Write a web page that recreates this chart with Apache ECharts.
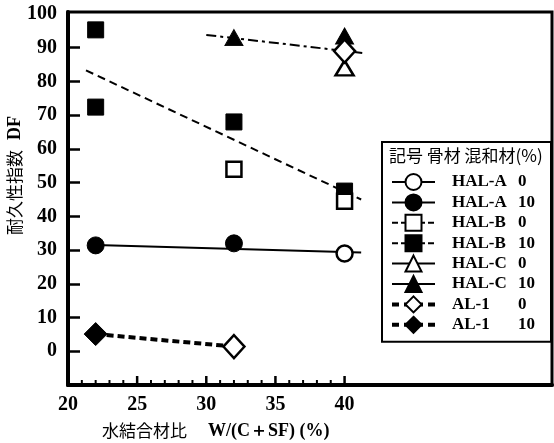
<!DOCTYPE html>
<html><head><meta charset="utf-8">
<script src="https://cdn.jsdelivr.net/npm/echarts@6/dist/echarts.min.js"></script>
<style>html,body{margin:0;padding:0;background:#fff}#c{width:554px;height:443px}</style>
</head><body><div id="c"></div>
<script>
// ---- data ----
const xTickLabels = [20, 25, 30, 35, 40];
const xMajorTicks = [25, 30, 35, 40];
const xMinorTicks = [21,22,23,24,26,27,28,29,31,32,33,34,36,37,38,39];
const yTickLabels = [0, 10, 20, 30, 40, 50, 60, 70, 80, 90, 100];
const yTicks = [0, 10, 20, 30, 40, 50, 60, 70, 80, 90];

const seriesNames = ['HAL-A 0','HAL-A 10','HAL-B 0','HAL-B 10','HAL-C 0','HAL-C 10','AL-1 0','AL-1 10'];
const legendAggregate = ['HAL-A','HAL-A','HAL-B','HAL-B','HAL-C','HAL-C','AL-1','AL-1'];
const legendAdmixture = ['0','10','0','10','0','10','0','10'];

const halA0 = [[40, 29]];
const halA10 = [[22, 31.4], [32, 32]];
const halB0 = [[32, 54], [40, 44.5]];
const halB10 = [[22, 95.3], [22, 72.4], [32, 68], [40, 47.5]];
const halC0 = [[40, 84]];
const halC10 = [[32, 93], [40, 93.5]];
const al1_0 = [[32, 1.4], [40, 89]];
const al1_10 = [[22, 5.1]];

const fitHalA = [[22, 31.5], [41.2, 29.3]];
const fitHalB = [[21.3, 83.3], [41.2, 45]];
const fitHalC = [[30, 93.8], [41.4, 88.4]];
const fitAl1 = [[22, 5.1], [32, 1.4]];

// ---- chart ----
const chart = echarts.init(document.getElementById('c'), null, {renderer: 'canvas'});
const serif = "'Liberation Serif', 'DejaVu Serif', serif";
const cjk = "'Noto Sans CJK JP', 'Noto Sans', sans-serif";
const Y_MIN = -10, Y_MAX = 100.6;

function pts(name, data, symbol, size, filled, z) {
  return {
    name: name, type: 'line', data: data, symbol: symbol, symbolSize: size,
    showSymbol: true, z: z, silent: true,
    lineStyle: {width: 0, opacity: 0, color: '#000'},
    itemStyle: {color: filled ? '#000' : '#fff', borderColor: '#000', borderWidth: filled ? 1 : 2.5, opacity: 1}
  };
}
function fit(data, width, type) {
  return {
    type: 'line', data: data, symbol: 'none', z: 2, silent: true,
    lineStyle: {color: '#000', width: width, type: type}
  };
}
// x-axis tick marks drawn through the axis scale (api.coord)
function ticks(values, len, width) {
  return {
    type: 'custom', silent: true, z: 6, clip: false,
    data: values.map(v => [v]),
    encode: {x: 0},
    renderItem: function (params, api) {
      const p = api.coord([api.value(0), Y_MIN]);
      return {type: 'line', shape: {x1: p[0], y1: p[1], x2: p[0], y2: p[1] - len},
              style: {stroke: '#000', lineWidth: width}};
    }
  };
}

const legendLines = [
  {width: 2, type: 'solid'}, {width: 2, type: 'solid'},
  {width: 2, type: [6, 3]}, {width: 2, type: [6, 3]},
  {width: 2, type: 'solid'}, {width: 2, type: 'solid'},
  {width: 4, type: [7, 5]}, {width: 4, type: [7, 5]}
];

const option = {
  animation: false,
  backgroundColor: '#fff',
  grid: {left: 68, right: 2, top: 12, bottom: 58, show: true, borderColor: '#000', borderWidth: 3},
  xAxis: {
    type: 'value', min: 20, max: 55,
    axisLine: {show: true, onZero: false, lineStyle: {color: '#000', width: 4}},
    axisTick: {show: false},
    axisLabel: {customValues: xTickLabels, color: '#000', fontFamily: serif, fontWeight: 'bold', fontSize: 20, margin: 10},
    splitLine: {show: false}
  },
  yAxis: {
    type: 'value', min: Y_MIN, max: Y_MAX,
    axisLine: {show: true, onZero: false, lineStyle: {color: '#000', width: 4}},
    axisTick: {show: true, inside: true, length: 12, customValues: yTicks, lineStyle: {color: '#000', width: 2.5}},
    axisLabel: {customValues: yTickLabels, color: '#000', fontFamily: serif, fontWeight: 'bold', fontSize: 20, margin: 11},
    splitLine: {show: false}
  },
  legend: {
    orient: 'vertical', left: 382, top: 142,
    padding: [31, 16, 8, 8], itemGap: 2.4, itemWidth: 43, itemHeight: 20,
    borderColor: '#000', borderWidth: 2, backgroundColor: '#fff',
    selectedMode: false,
    data: seriesNames.map((n, i) => ({name: n, lineStyle: Object.assign({color: '#000', opacity: 1}, legendLines[i])})),
    formatter: function (name) {
      const i = seriesNames.indexOf(name);
      return '{a|' + legendAggregate[i] + '}{b|' + legendAdmixture[i] + '}';
    },
    textStyle: {
      color: '#000', fontFamily: serif, fontWeight: 'bold', fontSize: 17,
      rich: {
        a: {width: 66, padding: [0, 0, 0, 12], fontFamily: serif, fontWeight: 'bold', fontSize: 17, color: '#000'},
        b: {width: 22, fontFamily: serif, fontWeight: 'bold', fontSize: 17, color: '#000'}
      }
    }
  },
  graphic: [
    {type: 'text', x: 389, y: 156, z: 100, style: {text: '記号 骨材 混和材(%)', font: '17px ' + cjk, fill: '#000', textVerticalAlign: 'middle', verticalAlign: 'middle'}},
    {type: 'text', x: 102, y: 431, style: {text: '水結合材比', font: '17px ' + cjk, fill: '#000', textVerticalAlign: 'middle', verticalAlign: 'middle'}},
    {type: 'text', x: 208, y: 431, style: {text: 'W/(C＋SF) (%)', font: 'bold 18px ' + serif, fill: '#000', textVerticalAlign: 'middle', verticalAlign: 'middle'}},
    {type: 'group', x: 15, y: 174, rotation: Math.PI / 2, children: [
      {type: 'text', x: -61, y: 0, style: {text: '耐久性指数', font: '17px ' + cjk, fill: '#000', textVerticalAlign: 'middle', verticalAlign: 'middle'}},
      {type: 'text', x: 34, y: 0, style: {text: 'DF', font: 'bold 18px ' + serif, fill: '#000', textVerticalAlign: 'middle', verticalAlign: 'middle'}}
    ]}
  ],
  series: [
    ticks(xMajorTicks, 9, 2.5),
    ticks(xMinorTicks, 5, 2),
    fit(fitHalA, 2, 'solid'),
    fit(fitHalB, 2, [8, 5]),
    fit(fitHalC, 2, [10, 4, 3, 4]),
    fit(fitAl1, 4, [7, 4]),
    pts('HAL-A 10', halA10, 'circle', 17, true, 3),
    pts('HAL-B 10', halB10, 'rect', 16, true, 3),
    pts('HAL-C 10', halC10, 'triangle', [18, 16], true, 3),
    pts('AL-1 10', al1_10, 'diamond', [23, 23], true, 3),
    pts('HAL-A 0', halA0, 'circle', 16, false, 4),
    pts('HAL-B 0', halB0, 'rect', 15, false, 4),
    pts('HAL-C 0', halC0, 'triangle', [18, 15], false, 4),
    pts('AL-1 0', al1_0, 'diamond', [21, 23], false, 4)
  ]
};
chart.setOption(option);
</script>
</body></html>
